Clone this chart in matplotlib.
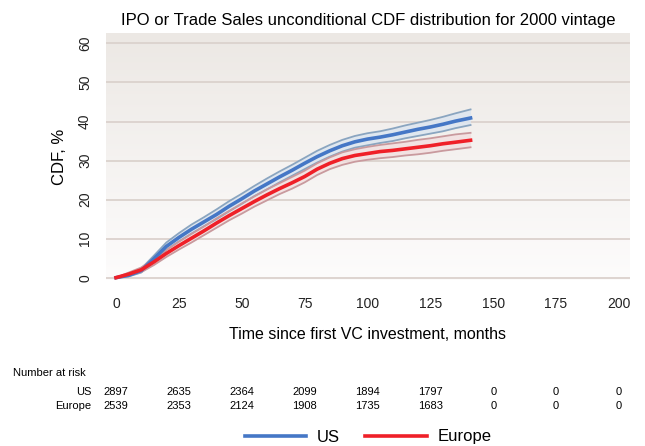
import matplotlib.pyplot as plt
import numpy as np
from matplotlib.transforms import blended_transform_factory
from matplotlib.lines import Line2D

plt.rcParams['font.family'] = ['Liberation Sans', 'DejaVu Sans']

months = [0, 5, 10, 15, 20, 25, 30, 35, 40, 45, 50, 55, 60, 65, 70,
          75, 80, 85, 90, 95, 100, 105, 110, 115, 120, 125, 130, 135, 141]

us = [0, 0.6, 1.8, 4.8, 8.0, 10.3, 12.4, 14.3, 16.2, 18.3, 20.2, 22.2, 24.0, 25.8, 27.5,
      29.3, 31.0, 32.5, 33.8, 34.8, 35.5, 36.0, 36.6, 37.3, 38.0, 38.6, 39.3, 40.1, 40.9]
us_hi = [0, 0.9, 2.3, 5.6, 9.0, 11.4, 13.6, 15.5, 17.5, 19.6, 21.5, 23.5, 25.4, 27.2, 28.9,
         30.7, 32.5, 34.0, 35.3, 36.3, 37.0, 37.5, 38.2, 39.0, 39.7, 40.4, 41.2, 42.1, 43.1]
us_lo = [0, 0.3, 1.3, 4.0, 7.1, 9.3, 11.3, 13.2, 15.0, 17.0, 18.9, 20.9, 22.6, 24.4, 26.1,
         27.8, 29.5, 31.0, 32.3, 33.3, 33.9, 34.5, 35.0, 35.7, 36.3, 36.9, 37.5, 38.3, 39.1]

eu = [0, 0.9, 2.0, 4.0, 6.2, 8.2, 10.1, 12.0, 14.0, 15.9, 17.7, 19.5, 21.2, 22.8, 24.3,
      25.9, 27.8, 29.3, 30.5, 31.3, 31.8, 32.3, 32.6, 33.0, 33.4, 33.8, 34.3, 34.7, 35.2]
eu_hi = [0, 1.3, 2.6, 4.8, 7.1, 9.2, 11.2, 13.1, 15.2, 17.1, 19.0, 20.8, 22.6, 24.2, 25.8,
         27.4, 29.3, 30.8, 32.1, 32.9, 33.5, 34.0, 34.4, 34.8, 35.3, 35.7, 36.2, 36.7, 37.1]
eu_lo = [0, 0.5, 1.4, 3.2, 5.3, 7.2, 9.0, 10.9, 12.8, 14.7, 16.4, 18.2, 19.8, 21.4, 22.8,
         24.4, 26.3, 27.8, 28.9, 29.7, 30.2, 30.6, 30.9, 31.3, 31.6, 32.0, 32.5, 32.9, 33.4]

risk_ticks = [0, 25, 50, 75, 100, 125, 150, 175, 200]
risk_us = [2897, 2635, 2364, 2099, 1894, 1797, 0, 0, 0]
risk_eu = [2539, 2353, 2124, 1908, 1735, 1683, 0, 0, 0]

fig = plt.figure(figsize=(6.45, 4.46), dpi=100)
ax = fig.add_axes([0.1643, 0.3722, 0.8124, 0.554])

# background gradient, grey at the top fading to white
grad = np.linspace(0, 1, 256).reshape(-1, 1)
top = np.array([236, 232, 228]) / 255
bot = np.array([253, 252, 252]) / 255
img = top + (bot - top) * grad[..., None]
ax.imshow(img, extent=[0, 1, 0, 1], transform=ax.transAxes, aspect='auto', zorder=0)

for v in range(0, 70, 10):
    ax.axhline(v, color='#dbd2cd', lw=1.3, zorder=1)

ax.fill_between(months, us_lo, us_hi, color='#dde6f0', alpha=0.9, lw=0, zorder=2)
ax.fill_between(months, eu_lo, eu_hi, color='#f2dfdf', alpha=0.8, lw=0, zorder=2)
ax.plot(months, us_hi, color='#8aa5c0', lw=1.3, zorder=3)
ax.plot(months, us_lo, color='#8aa5c0', lw=1.3, zorder=3)
ax.plot(months, eu_hi, color='#c99a9e', lw=1.3, zorder=3)
ax.plot(months, eu_lo, color='#c99a9e', lw=1.3, zorder=3)
ax.plot(months, us, color='#4577c6', lw=2.6, zorder=4)
ax.plot(months, eu, color='#ef2028', lw=2.6, zorder=5)

ax.set_xlim(-4, 204.4)
ax.set_ylim(-0.6, 62.7)
ax.set_xticks(risk_ticks)
ax.set_yticks(range(0, 70, 10))
for s in ax.spines.values():
    s.set_visible(False)
ax.tick_params(length=0, labelsize=10, colors='#222222')
ax.tick_params(axis='x', pad=12)
ax.tick_params(axis='y', pad=10)
for lab in ax.get_yticklabels():
    lab.set_rotation(90)
    lab.set_va('center')

ax.set_title('IPO or Trade Sales unconditional CDF distribution for 2000 vintage',
             fontsize=12, pad=6)
ax.set_xlabel('Time since first VC investment, months', fontsize=11.5, labelpad=12)
ax.set_ylabel('CDF, %', fontsize=12, labelpad=8)

# number at risk table
tr = blended_transform_factory(ax.transData, fig.transFigure)
fig.text(13 / 645, 1 - 373 / 446, 'Number at risk', fontsize=8, va='center')
fig.text(91 / 645, 1 - 392 / 446, 'US', fontsize=8, va='center', ha='right')
fig.text(91 / 645, 1 - 406 / 446, 'Europe', fontsize=8, va='center', ha='right')
for t, a, b in zip(risk_ticks, risk_us, risk_eu):
    ax.text(t, 1 - 392 / 446, str(a), transform=tr, fontsize=8, ha='center', va='center')
    ax.text(t, 1 - 406 / 446, str(b), transform=tr, fontsize=8, ha='center', va='center')

handles = [Line2D([], [], color='#4577c6', lw=2.6), Line2D([], [], color='#ef2028', lw=2.6)]
fig.legend(handles, ['US', 'Europe'], loc='center', bbox_to_anchor=(368 / 645, 1 - 437 / 446),
           ncol=2, frameon=False, fontsize=12, handlelength=3.7, handletextpad=0.65,
           columnspacing=1.5)

fig.savefig('out.png', dpi=100)
